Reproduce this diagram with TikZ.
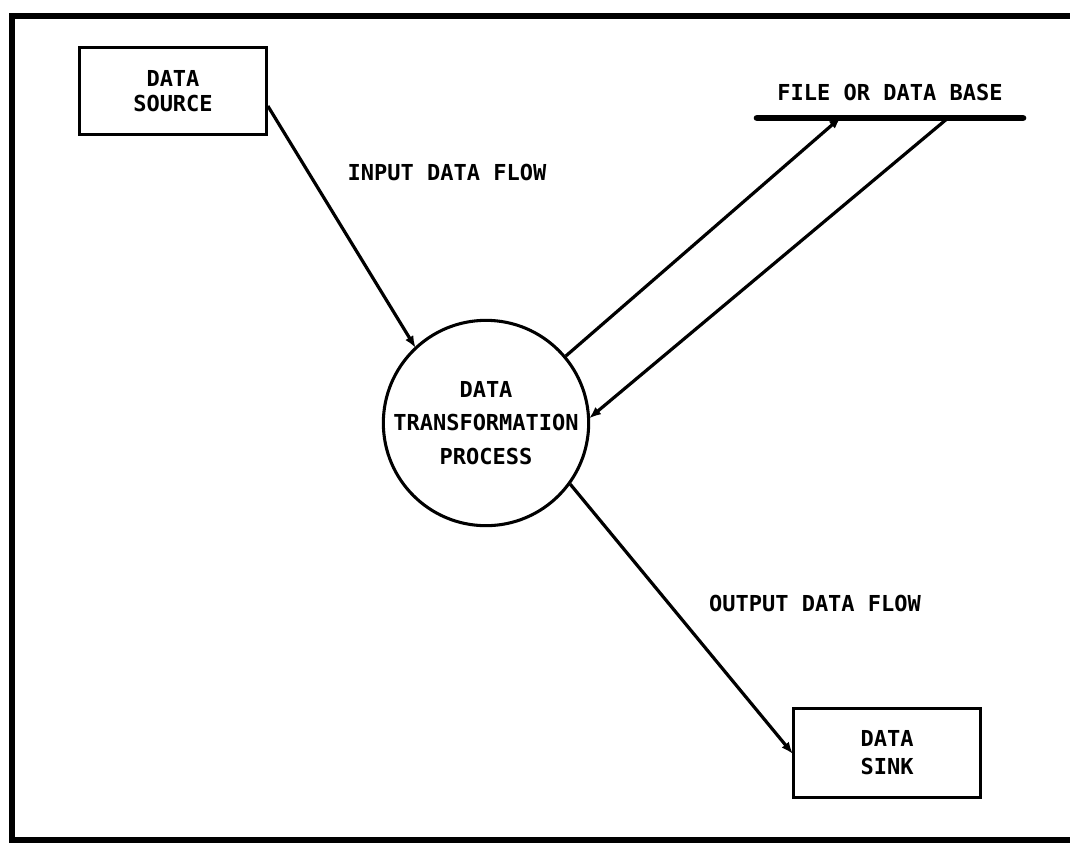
\documentclass[tikz,border=0pt]{standalone}
\usepackage{fontspec}
\setmonofont{DejaVu Sans Mono}
\usepackage{tikz}
\usetikzlibrary{arrows.meta,positioning,calc}

\begin{document}
\begin{tikzpicture}[
  x=0.75pt,y=-0.75pt,
  every node/.style={font=\ttfamily\bfseries\fontsize{16.5}{23}\selectfont,align=center,inner sep=0pt},
  entity/.style={draw,line width=2.3pt,minimum width=140pt,minimum height=65pt},
  proc/.style={circle,draw,line width=2.3pt,minimum size=154pt},
  flow/.style={-{Latex[length=9pt,width=7pt]},line width=2.4pt,shorten >=-1pt},
  frame/.style={line width=3.8pt},
  storeline/.style={line width=5pt,line cap=round}
]
\clip (0,0) rectangle (1070,844);
\useasboundingbox (0,0) rectangle (1070,844);
% outer frame, open on the right
\draw[frame] (1090,16) -- (12,16) -- (12,840) -- (1090,840);

\node[entity,font=\ttfamily\bfseries\fontsize{16.5}{19}\selectfont] (src) at (173,91) {DATA\\SOURCE};
\node[proc,font=\ttfamily\bfseries\fontsize{16.5}{25}\selectfont] (dtp) at (486,423) {DATA\\TRANSFORMATION\\PROCESS};
\node[entity,minimum height=67pt,font=\ttfamily\bfseries\fontsize{16.5}{21}\selectfont] (snk) at (887,753) {DATA\\SINK};

% data store: label over a single bar
\node (store) at (890,92) {FILE OR DATA BASE};
\coordinate (sl) at (757,118);
\coordinate (sr) at (1023,118);
\coordinate (wr) at (840,118);
\coordinate (rd) at (948,118);
\draw[storeline] (sl) -- (sr);

\node (inl) at (447,172) {INPUT DATA FLOW};
\node (outl) at (815,603) {OUTPUT DATA FLOW};

\draw[flow] (src.-9) -- (dtp.133);
\draw[flow] (dtp.40) -- (wr);
\draw[flow] (rd) -- (dtp.3);
\draw[flow] (dtp.-36) -- (snk.west);
\end{tikzpicture}
\end{document}
